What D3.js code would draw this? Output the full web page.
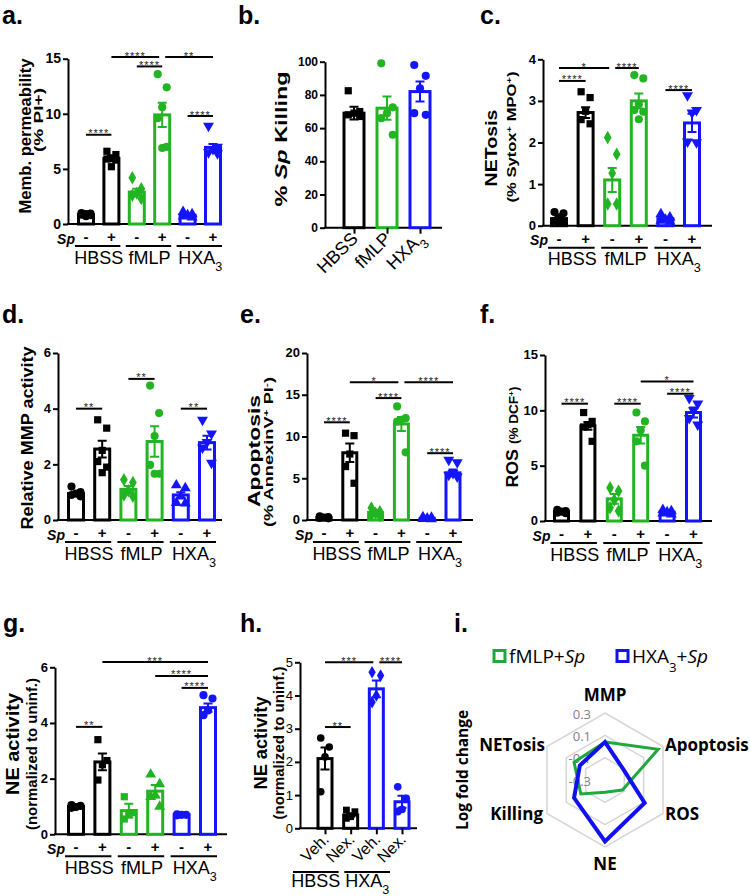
<!DOCTYPE html>
<html><head><meta charset="utf-8">
<script src="https://cdn.jsdelivr.net/npm/d3@7"></script>
<style>body{margin:0;background:#fff}svg{display:block}</style>
</head><body>
<svg id="fig" width="750" height="896"></svg>
<script>
// ---------------- DATA ----------------
const spSigns = ["-","+","-","+","-","+"];
const groups3 = ["HBSS","fMLP","HXA3"];

// a. Membrane permeability
const permMean = [0.85, 5.95, 2.9, 9.9, 0.8, 6.95];
const permSem  = [0.05, 0.25, 0.3, 1.1, 0.1, 0.3];
const permPts  = [[1.0,0.95,0.9,0.85,0.8,0.7],[6.6,6.3,6.0,5.9,5.8,5.2],[4.2,3.2,2.8,2.6,2.3],[13.6,12.4,10.6,9.6,7.0,6.9],[1.1,0.9,0.8,0.7,0.6],[8.9,7.0,6.8,6.5,6.4]];
const permSig  = [[0,1,8.1,"****"],[2,3,14.3,"****"],[1,3,15.15,"****"],[3,5,15.15,"**"],[4,5,9.8,"****"]];
const permTicks = [0,5,10,15];

// b. % Sp killing
const killCats = ["HBSS","fMLP","HXA3"];
const killMean = [69, 72, 82];
const killSem  = [3.8, 7, 6];
const killPts  = [[82.5,70,69,68,67],[99,72.5,69,66,56],[98,91.5,84,69,68]];
const killTicks = [0,20,40,60,80,100];

// c. NETosis
const netMean = [0.17, 2.72, 1.1, 3.0, 0.17, 2.47];
const netSem  = [0.04, 0.13, 0.29, 0.18, 0.03, 0.22];
const netPts  = [[0.33,0.3,0.2,0.12,0.1,0.08],[3.22,3.08,2.75,2.55,2.45],[2.12,1.72,1.26,0.52,0.52],[3.62,3.54,2.92,2.78,2.74,2.56],[0.28,0.2,0.15,0.12,0.1],[3.13,2.78,2.72,2.02,2.0]];
const netSig  = [[0,2,3.79,"*"],[0,1,3.48,"****"],[2,3,3.79,"****"],[4,5,3.26,"****"]];
const netTicks = [0,1,2,3,4];

// d. Relative MMP activity
const mmpMean = [0.95, 2.55, 1.1, 2.82, 0.9, 2.78];
const mmpSem  = [0.05, 0.3, 0.12, 0.55, 0.1, 0.25];
const mmpPts  = [[1.2,1.0,0.95,0.9,0.85],[3.6,3.3,2.5,2.1,1.9,1.7],[1.45,1.35,1.05,0.9,0.85],[4.83,3.84,3.02,1.98,1.66,1.66],[1.25,1.15,0.85,0.62,0.6],[3.6,3.1,2.8,2.6,2.05]];
const mmpSig  = [[0,1,4.0,"**"],[2,3,5.07,"**"],[4,5,4.0,"**"]];
const mmpTicks = [0,2,4,6];

// e. Apoptosis
const apoMean = [0.3, 8.05, 0.9, 11.5, 0.2, 5.65];
const apoSem  = [0.05, 1.1, 0.2, 0.85, 0.05, 0.4];
const apoPts  = [[0.45,0.35,0.3,0.25,0.2],[10.4,10.1,7.9,6.4,4.4],[1.45,1.0,0.8,0.6,0.5],[13.6,12.2,12.0,11.8,8.1],[0.35,0.3,0.2,0.15,0.1],[7.2,6.9,5.6,5.4,5.2]];
const apoSig  = [[0,1,11.7,"****"],[1,3,16.5,"*"],[2,3,14.6,"****"],[3,5,16.5,"****"],[4,5,8.0,"****"]];
const apoTicks = [0,5,10,15,20];

// f. ROS
const rosMean = [0.85, 8.6, 2.0, 7.75, 0.8, 9.8];
const rosSem  = [0.07, 0.35, 0.45, 0.75, 0.1, 0.45];
const rosPts  = [[1.0,0.9,0.85,0.75,0.7],[9.8,9.0,8.7,8.5,7.2],[3.0,2.7,1.9,1.2,0.9],[9.8,9.0,8.2,7.2,5.0],[1.0,0.9,0.8,0.7,0.6],[11.1,10.6,10.0,9.3,8.7]];
const rosSig  = [[0,1,10.6,"****"],[2,3,10.6,"****"],[3,5,12.6,"*"],[4,5,11.5,"****"]];
const rosTicks = [0,5,10,15];

// g. NE activity
const neMean = [1.0, 2.6, 0.85, 1.55, 0.7, 4.55];
const neSem  = [0.03, 0.3, 0.25, 0.22, 0.02, 0.15];
const nePts  = [[1.05,1.02,0.98,0.95],[3.4,2.65,2.5,1.95],[1.35,0.78,0.7,0.55],[2.15,1.8,1.4,1.35,1.0],[0.72,0.7,0.7,0.68],[5.0,4.88,4.45,4.28]];
const neSig  = [[0,1,3.86,"**"],[1,5,6.19,"***"],[3,5,5.69,"****"],[4,5,5.26,"****"]];
const neTicks = [0,2,4,6];

// h. NE activity with Nexinhib
const nexCats = ["Veh.","Nex.","Veh.","Nex."];
const nexGroups = ["HBSS","HXA3"];
const nexMean = [2.1, 0.4, 4.2, 0.8];
const nexSem  = [0.33, 0.05, 0.25, 0.18];
const nexPts  = [[2.72,2.45,2.15,1.1],[0.55,0.5,0.35,0.3],[4.7,4.6,4.0,3.8],[1.25,0.9,0.57,0.5]];
const nexSig  = [[0,1,3.05,"**"],[0,2,5.0,"***"],[2,3,5.0,"****"]];
const nexTicks = [0,1,2,3,4,5];

// i. Radar (log fold change)
const radarAxes = ["MMP","Apoptosis","ROS","NE","Killing","NETosis"];
const radarFmlp = [0.04, 0.25, -0.12, -0.19, -0.05, 0.02];
const radarHxa  = [0.04, -0.11, 0.11, 0.25, 0.02, -0.04];
const radarTicks = [-0.3, -0.1, 0.1, 0.3];

// ---------------- DRAWING ----------------
const svg = d3.select("#fig");
const F = "'Liberation Sans', Arial, Helvetica, sans-serif";
const FO = "'Open Sans', 'Noto Sans', sans-serif";
const K = "#000", G = "#22b422", B = "#1414ff";
const RG = "#1fa83c", RB = "#1010f0";
const col6 = [K,K,G,G,B,B];
const shp6 = ["circle","square","diamond","circle","triUp","triDown"];
const symType = {circle:d3.symbolCircle, square:d3.symbolSquare, diamond:d3.symbolDiamond, triUp:d3.symbolTriangle, triDown:d3.symbolTriangle};
const jit = [-4.5, 4.5, 0, -4.5, 4.5, 0];

function rich(sel, str, size) {
  if (str === "HXA3") {
    sel.append("tspan").text("HXA");
    sel.append("tspan").text("3").attr("baseline-shift","sub").attr("font-size", size*0.7);
  } else sel.text(str);
}

function barPanel(c) {
  const g = svg.append("g");
  const y = d3.scaleLinear().domain([0, c.ymax]).range([c.yBot, c.yTop]);
  const x = d3.scalePoint().domain(d3.range(c.means.length)).range(c.cRange);
  const ya = g.append("g").attr("transform", `translate(${c.x0},0)`)
    .call(d3.axisLeft(y).tickValues(c.ticks).tickSize(5).tickSizeOuter(0).tickPadding(2).tickFormat(d3.format("d")));
  ya.select(".domain").attr("stroke", K).attr("stroke-width", 2);
  ya.selectAll(".tick line").attr("stroke-width", 2);
  ya.selectAll(".tick text").attr("font-family", F).attr("font-size", c.tickFs)
    .attr("font-weight", c.tickW || "bold").attr("fill", K).attr("dy", "0.3em");
  g.append("line").attr("x1", c.x0 - 1).attr("x2", c.x1).attr("y1", c.yBot).attr("y2", c.yBot)
    .attr("stroke", K).attr("stroke-width", 2);

  const idx = d3.range(c.means.length);
  g.selectAll("rect.bar").data(idx).join("rect").attr("class","bar")
    .attr("x", i => x(i) - c.bw/2 + 1.5).attr("width", c.bw - 3)
    .attr("y", i => y(c.means[i])).attr("height", i => c.yBot - y(c.means[i]))
    .attr("fill", "#fff").attr("stroke", i => c.colors[i]).attr("stroke-width", 3);

  const pts = idx.flatMap(i => c.points[i].map((v, k) => ({i, v, k})));
  g.selectAll("path.pt").data(pts).join("path").attr("class","pt")
    .attr("d", d => d3.symbol().type(symType[c.shapes[d.i]]).size(c.ms || 52)())
    .attr("transform", d => `translate(${x(d.i) + jit[d.k % 6] * (c.bw/18)},${y(d.v)})` + (c.shapes[d.i] === "triDown" ? " rotate(180)" : ""))
    .attr("fill", d => c.colors[d.i]);

  idx.forEach(i => {
    const lo = y(c.means[i] - c.sems[i]), hi = y(c.means[i] + c.sems[i]), cx = x(i), cw = 4.5;
    g.append("path").attr("d", `M${cx},${lo}V${hi}M${cx-cw},${hi}H${cx+cw}M${cx-cw},${lo}H${cx+cw}`)
      .attr("stroke", c.colors[i]).attr("stroke-width", 2).attr("fill", "none");
  });

  (c.sig || []).forEach((s, k) => {
    const [i, j, lv, lab] = s;
    let xa = x(i), xb = x(j);
    c.sig.forEach((o, m) => { if (m === k || o[2] !== lv) return; if (o[0] === j) xb -= 3; if (o[1] === i) xa += 3; });
    g.append("line").attr("x1", xa).attr("x2", xb).attr("y1", y(lv)).attr("y2", y(lv)).attr("stroke", K).attr("stroke-width", 2);
    g.append("text").attr("x", (xa + xb)/2).attr("y", y(lv) + 2.5).attr("text-anchor","middle")
      .attr("font-family", F).attr("font-size", 11).attr("letter-spacing", 1).attr("fill", "#222").text(lab);
  });

  if (c.spRow) {
    g.append("text").attr("x", x(0) - 11).attr("y", c.yBot + 19.5).attr("text-anchor","end")
      .attr("font-family", F).attr("font-weight","bold").attr("font-style","italic").attr("font-size", 14).text("Sp");
    g.selectAll("text.sp").data(idx).join("text").attr("class","sp")
      .attr("x", i => x(i)).attr("y", c.yBot + 18).attr("text-anchor","middle")
      .attr("font-family", F).attr("font-weight","bold").attr("font-size", 15).text(i => spSigns[i]);
    groups3.forEach((gname, k) => {
      const xa = x(2*k), xb = x(2*k + 1);
      g.append("line").attr("x1", xa - 11).attr("x2", xb + 9).attr("y1", c.yBot + 22).attr("y2", c.yBot + 22)
        .attr("stroke", K).attr("stroke-width", 2);
      const t = g.append("text").attr("x", (xa + xb)/2).attr("y", c.yBot + 39.5).attr("text-anchor","middle")
        .attr("font-family", F).attr("font-size", 18);
      rich(t, gname, 18);
    });
  }
  if (c.xLabels) {
    const xa = g.append("g").attr("transform", `translate(0,${c.yBot})`)
      .call(d3.axisBottom(x).tickSize(6).tickFormat(""));
    xa.select(".domain").remove();
    xa.selectAll(".tick line").attr("stroke-width", 2);
    idx.forEach(i => {
      const t = g.append("text").attr("transform", `translate(${x(i) + 5},${c.yBot + 12}) rotate(-45)`)
        .attr("text-anchor","end").attr("font-family", F).attr("font-size", c.xFs);
      rich(t, c.xLabels[i], c.xFs);
    });
  }
  return {g, x, y};
}

function vTitle(cx, cy, size, len, parts, fam) {
  const t = svg.append("text").attr("transform", `translate(${cx + size*0.36},${cy}) rotate(-90)`)
    .attr("text-anchor","middle").attr("font-family", fam || F).attr("font-weight","bold")
    .attr("font-size", size).attr("fill", K);
  if (len) t.attr("textLength", len).attr("lengthAdjust","spacingAndGlyphs");
  parts.forEach(p => {
    const s = t.append("tspan").text(p.t);
    if (p.it) s.attr("font-style","italic");
    if (p.fs) s.attr("font-size", p.fs);
    if (p.sup) s.attr("baseline-shift","super").attr("font-size", p.sup);
  });
  return t;
}

// panel letters
[["a.",2,24],["b.",238,24],["c.",480,24],["d.",2,323],["e.",240,323],["f.",480,323],["g.",3,632],["h.",240,632],["i.",454,632]]
  .forEach(([s, px, py]) => svg.append("text").attr("x", px).attr("y", py).attr("font-family", F)
    .attr("font-weight","bold").attr("font-size", 25).text(s));

// a
barPanel({x0:68, x1:222, yTop:58.7, yBot:224, ymax:15, ticks:permTicks, cRange:[86,213], bw:18, tickFs:14,
  means:permMean, sems:permSem, points:permPts, colors:col6, shapes:shp6, sig:permSig, spRow:true});
vTitle(25, 136, 17, 155, [{t:"Memb. permeability"}]);
vTitle(39, 120, 12, 64, [{t:"(% PI+)"}]);

// b
barPanel({x0:325, x1:442, yTop:61.7, yBot:227.7, ymax:100, ticks:killTicks, cRange:[354,420], bw:23, tickFs:12,
  means:killMean, sems:killSem, points:killPts, colors:[K,G,B], shapes:["square","circle","circle"],
  xLabels:killCats, xFs:18});
vTitle(281, 139, 17, 135, [{t:"% "},{t:"Sp",it:true},{t:" Killing"}]);

// c
barPanel({x0:543, x1:712, yTop:59.3, yBot:225.7, ymax:4, ticks:netTicks, cRange:[559,692], bw:18, tickFs:13,
  means:netMean, sems:netSem, points:netPts, colors:col6, shapes:shp6, sig:netSig, spRow:true});
vTitle(491, 148, 17, 77, [{t:"NETosis"}]);
vTitle(512, 137, 12, 131, [{t:"(% Sytox"},{t:"+",sup:8},{t:" MPO"},{t:"+",sup:8},{t:")"}]);

// d
barPanel({x0:58, x1:222, yTop:353, yBot:520, ymax:6, ticks:mmpTicks, cRange:[76,207], bw:18, tickFs:13,
  means:mmpMean, sems:mmpSem, points:mmpPts, colors:col6, shapes:shp6, sig:mmpSig, spRow:true});
vTitle(27, 438, 17, 183, [{t:"Relative MMP activity"}]);

// e
barPanel({x0:307, x1:473, yTop:353, yBot:520, ymax:20, ticks:apoTicks, cRange:[324,453], bw:17, tickFs:13,
  means:apoMean, sems:apoSem, points:apoPts, colors:col6, shapes:shp6, sig:apoSig, spRow:true});
vTitle(254, 451, 17, 112, [{t:"Apoptosis"}]);
vTitle(269, 452, 12, 150, [{t:"(% AnnexinV"},{t:"+",sup:8},{t:" PI"},{t:"-",sup:8},{t:")"}]);

// f
barPanel({x0:545, x1:712, yTop:355, yBot:521, ymax:15, ticks:rosTicks, cRange:[561.5,693.5], bw:17, tickFs:13,
  means:rosMean, sems:rosSem, points:rosPts, colors:col6, shapes:shp6, sig:rosSig, spRow:true});
vTitle(512, 437, 17, 101, [{t:"ROS "},{t:"(% DCF",fs:13},{t:"+",sup:8},{t:")",fs:13}]);

// g
barPanel({x0:55, x1:227, yTop:667.3, yBot:834.3, ymax:6, ticks:neTicks, cRange:[76,208], bw:18, tickFs:13,
  means:neMean, sems:neSem, points:nePts, colors:col6, shapes:["circle","square","square","triUp","circle","circle"],
  sig:neSig, spRow:true});
vTitle(13, 744, 18, 102, [{t:"NE activity"}]);
vTitle(32, 754, 14, 152, [{t:"(normalized to uninf.)"}]);

// h
const hp = barPanel({x0:300, x1:417, yTop:662.3, yBot:828.3, ymax:5, ticks:nexTicks, cRange:[325,402], bw:17, tickFs:13, tickW:"normal",
  means:nexMean, sems:nexSem, points:nexPts, colors:[K,K,B,B], shapes:["circle","square","diamond","circle"],
  sig:nexSig, xLabels:nexCats, xFs:16, ms:46});
nexGroups.forEach((gname, k) => {
  const xa = hp.x(2*k) - 32, xb = hp.x(2*k + 1) - 12;
  svg.append("line").attr("x1", xa).attr("x2", xb).attr("y1", 872).attr("y2", 872).attr("stroke", K).attr("stroke-width", 2);
  const t = svg.append("text").attr("x", (xa + xb)/2).attr("y", 887).attr("text-anchor","middle")
    .attr("font-family", F).attr("font-size", 18);
  rich(t, gname, 18);
});
vTitle(261, 743, 18, 93, [{t:"NE activity"}]);
vTitle(279, 743, 14, 153, [{t:"(normalized to uninf.)"}]);

// i. radar
const rc = {x:605, y:780, R:67};
const rScale = d3.scaleLinear().domain([-0.3, 0.3]).range([0, rc.R]);
const ang = d3.scalePoint().domain(radarAxes).range([0, 2*Math.PI*5/6]);
const rg = svg.append("g").attr("transform", `translate(${rc.x},${rc.y})`);
const radial = d3.lineRadial().curve(d3.curveLinearClosed);
radarTicks.filter(v => v > -0.3).forEach(v => {
  rg.append("path").attr("d", radial(radarAxes.map(a => [ang(a), rScale(v)])))
    .attr("fill","none").attr("stroke","#d6d6d6").attr("stroke-width",1.5);
});
radarTicks.forEach(v => {
  rg.append("text").attr("x", -14).attr("y", -rScale(v) + 5.5).attr("text-anchor","end")
    .attr("font-family", FO).attr("font-size", 13).attr("fill","#808080").text(v.toFixed(1));
});
[[radarFmlp, RG, 3], [radarHxa, RB, 4]].forEach(([vals, col, sw]) => {
  rg.append("path").attr("d", radial(radarAxes.map((a, i) => [ang(a), rScale(vals[i])])))
    .attr("fill","none").attr("stroke", col).attr("stroke-width", sw).attr("stroke-linejoin","miter");
});
const labPos = {MMP:[0,-79,"middle"], Apoptosis:[60,-29,"start"], ROS:[60,40,"start"], NE:[0,90,"middle"], Killing:[-62,40,"end"], NETosis:[-60,-29,"end"]};
radarAxes.forEach(a => {
  const [dx, dy, anc] = labPos[a];
  rg.append("text").attr("x", dx).attr("y", dy).attr("text-anchor", anc).attr("font-family", FO)
    .attr("font-weight","bold").attr("font-size", 17).text(a);
});
vTitle(462, 770, 16, 120, [{t:"Log fold change"}], FO);

// legend
const lg = svg.append("g");
[[RG, 494, "fMLP"], [RB, 617, "HXA3"]].forEach(([col, lx, name]) => {
  lg.append("rect").attr("x", lx).attr("y", 650.5).attr("width", 11).attr("height", 11)
    .attr("fill","none").attr("stroke", col).attr("stroke-width", 3);
  const t = lg.append("text").attr("x", lx + 15).attr("y", 663).attr("font-family", FO).attr("font-size", 19);
  rich(t, name, 19);
  t.append("tspan").text("+");
  t.append("tspan").attr("font-style","italic").text("Sp");
});
</script>
</body></html>
